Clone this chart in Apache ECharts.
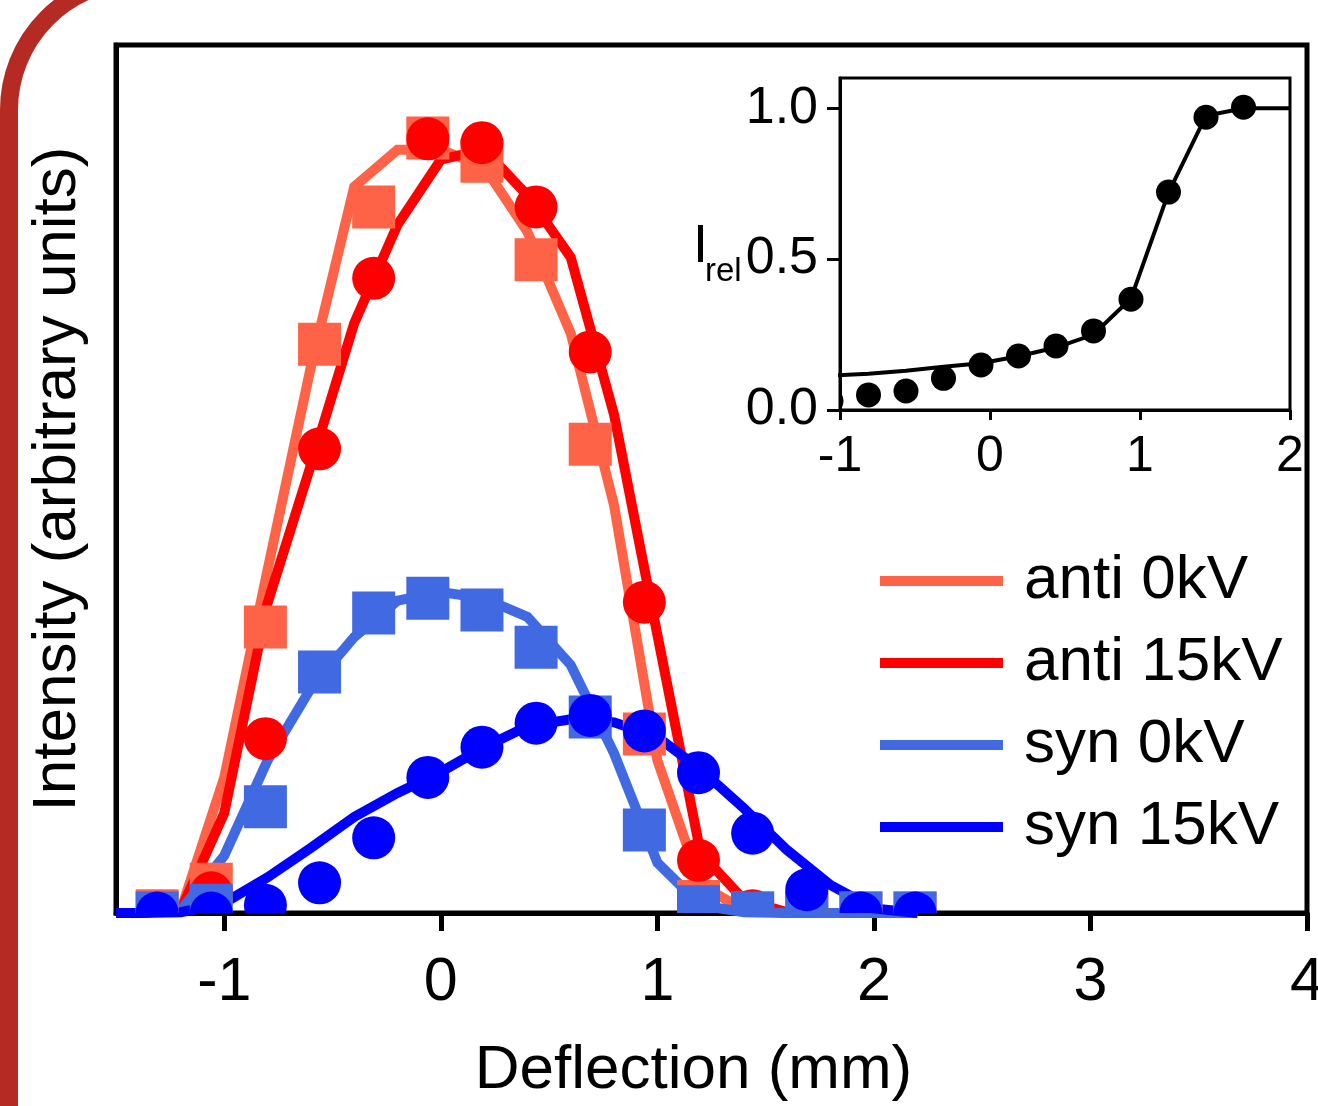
<!DOCTYPE html>
<html lang="en">
<head>
<meta charset="UTF-8">
<title>Deflection</title>
<style>
  html, body { margin: 0; background: #fff; }
  #chart { width: 1318px; height: 1106px; }
</style>
</head>
<body>
<div id="chart"></div>
<script src="https://cdn.jsdelivr.net/npm/echarts@6/dist/echarts.min.js"></script>
<script>
// measured points (x in mm)
const dataX = [-1.31, -1.06, -0.81, -0.56, -0.31, -0.06, 0.19, 0.44, 0.69, 0.94, 1.19, 1.44, 1.69, 1.94, 2.19];
const anti0Pts = [0.003, 0.037, 0.369, 0.734, 0.911, 1.0, 0.97, 0.843, 0.605, 0.231, 0.015, 0.0, 0.0, 0.0, 0.0];
const anti15Pts = [0.0, 0.026, 0.225, 0.599, 0.819, 0.999, 0.994, 0.911, 0.724, 0.401, 0.068, 0.003, 0.0, 0.0, 0.0];
const syn0Pts = [0.0, 0.01, 0.137, 0.311, 0.387, 0.406, 0.391, 0.343, 0.253, 0.107, 0.008, 0.0, 0.0, 0.0, 0.0];
const syn15Pts = [0.0, 0.0, 0.01, 0.039, 0.097, 0.175, 0.214, 0.245, 0.255, 0.235, 0.181, 0.103, 0.03, 0.0, 0.0];

// fitted curves
const fitX = [-1.5, -1.4, -1.2, -1.0, -0.8, -0.6, -0.4, -0.2, 0, 0.2, 0.4, 0.6, 0.8, 1.0, 1.2, 1.4, 1.6, 1.8, 2.0, 2.2];
const anti0Fit = [0, 0, 0.004, 0.175, 0.443, 0.705, 0.937, 0.985, 0.985, 0.963, 0.879, 0.748, 0.526, 0.197, 0.036, 0.004, 0, 0, 0, 0];
const anti15Fit = [0, 0, 0.004, 0.129, 0.4, 0.578, 0.761, 0.888, 0.972, 0.985, 0.926, 0.846, 0.643, 0.359, 0.077, 0.017, 0.001, 0, 0, 0];
const syn0Fit = [0, 0, 0.004, 0.074, 0.197, 0.29, 0.356, 0.403, 0.414, 0.406, 0.382, 0.32, 0.206, 0.065, 0.01, 0.001, 0, 0, 0, 0];
const syn15Fit = [0, 0, 0.001, 0.013, 0.046, 0.084, 0.124, 0.155, 0.182, 0.214, 0.241, 0.25, 0.246, 0.227, 0.185, 0.135, 0.081, 0.036, 0.006, 0];

// inset: relative intensity
const insetX = [-1.06, -0.81, -0.56, -0.31, -0.06, 0.19, 0.44, 0.69, 0.94, 1.19, 1.44, 1.69];
const irelPts = [0.03, 0.05, 0.063, 0.105, 0.149, 0.179, 0.212, 0.262, 0.367, 0.722, 0.970, 1.003];
const insetFitX = [-1.06, -0.81, -0.56, -0.31, -0.06, 0.19, 0.44, 0.69, 0.94, 1.19, 1.44, 1.69, 2.0];
const irelFit = [0.114, 0.12, 0.13, 0.143, 0.155, 0.178, 0.207, 0.25, 0.37, 0.72, 0.975, 1.0, 1.0];

const mainTicks = [-1, 0, 1, 2, 3, 4];
const insetXTicks = [-1, 0, 1, 2];
const insetYTicks = [0, 0.5, 1.0];

const font = 'Liberation Sans';
const zip = (xs, ys) => xs.map((x, i) => [x, ys[i]]);

function fitLine(name, xs, ys, color, width, gi) {
  return {
    type: 'line', name: name, xAxisIndex: gi, yAxisIndex: gi,
    data: zip(xs, ys), showSymbol: false, symbol: 'none', z: 2,
    lineStyle: { color: color, width: width, join: 'miter' },
    itemStyle: { color: color }
  };
}

// markers drawn as custom series so they get clipped at the frame
function markers(name, xs, ys, shape, color, size, gi) {
  return {
    type: 'custom', name: name, xAxisIndex: gi, yAxisIndex: gi, clip: true, z: 3,
    data: zip(xs, ys),
    renderItem: (params, api) => {
      const p = api.coord([api.value(0), api.value(1)]);
      if (shape === 'square') {
        return { type: 'rect', shape: { x: p[0] - size / 2, y: p[1] - size / 2, width: size, height: size }, style: { fill: color } };
      }
      return { type: 'circle', shape: { cx: p[0], cy: p[1], r: size / 2 }, style: { fill: color } };
    }
  };
}

const chart = echarts.init(document.getElementById('chart'));
chart.setOption({
  animation: false,
  backgroundColor: '#fff',
  grid: [
    { left: 116, top: 45, width: 1191, height: 868, show: true, borderColor: '#000', borderWidth: 5, backgroundColor: 'transparent', outerBoundsMode: 'none' },
    { left: 840, top: 78, width: 450, height: 332, show: true, borderColor: '#000', borderWidth: 3, backgroundColor: '#fff', outerBoundsMode: 'none', z: 5 }
  ],
  xAxis: [{
    type: 'value', gridIndex: 0, min: -1.5, max: 4,
    name: 'Deflection (mm)', nameLocation: 'middle', nameGap: 127, nameMoveOverlap: false,
    nameTextStyle: { fontSize: 62, fontFamily: font, color: '#000', padding: [0, 36, 0, 0] },
    axisLine: { show: true, onZero: false, lineStyle: { color: '#000', width: 5 } },
    axisTick: { show: true, inside: false, length: 18, lineStyle: { color: '#000', width: 5 }, customValues: mainTicks },
    axisLabel: { fontSize: 61, fontFamily: font, color: '#000', margin: 40, customValues: mainTicks },
    splitLine: { show: false }
  }, {
    type: 'value', gridIndex: 1, min: -1, max: 2,
    axisLine: { show: true, onZero: false, lineStyle: { color: '#000', width: 3 } },
    axisTick: { show: true, inside: false, length: 10, lineStyle: { color: '#000', width: 3 }, customValues: insetXTicks },
    axisLabel: { fontSize: 50, fontFamily: font, color: '#000', margin: 22, customValues: insetXTicks },
    splitLine: { show: false }, z: 6
  }],
  yAxis: [{
    type: 'value', gridIndex: 0, min: 0, max: 1.12,
    name: 'Intensity (arbitrary units)', nameLocation: 'middle', nameGap: 27, nameMoveOverlap: false,
    nameTextStyle: { fontSize: 62, fontFamily: font, color: '#000' },
    axisLine: { show: true, onZero: false, lineStyle: { color: '#000', width: 5 } },
    axisTick: { show: false }, axisLabel: { show: false }, splitLine: { show: false }
  }, {
    type: 'value', gridIndex: 1, min: 0, max: 1.1,
    axisLine: { show: true, onZero: false, lineStyle: { color: '#000', width: 3 } },
    axisTick: { show: true, inside: false, length: 13, lineStyle: { color: '#000', width: 3 }, customValues: insetYTicks },
    axisLabel: { fontSize: 52, fontFamily: font, color: '#000', margin: 22, customValues: insetYTicks, formatter: v => v.toFixed(1) },
    splitLine: { show: false }, z: 6
  }],
  legend: {
    data: ['anti 0kV', 'anti 15kV', 'syn 0kV', 'syn 15kV'],
    orient: 'vertical', left: 880, top: 550, padding: 0,
    icon: 'rect', itemWidth: 123, itemHeight: 10, itemGap: 20,
    textStyle: { fontSize: 62, lineHeight: 60, fontFamily: font, color: '#000', padding: [0, 0, 0, 16] }
  },
  graphic: [
    { type: 'rect', silent: true, z: 100, shape: { x: 9, y: -20, width: 2400, height: 2400, r: 130 }, style: { fill: 'none', stroke: '#b52b23', lineWidth: 18 } },
    { type: 'text', z: 100, x: 693, y: 247, style: { text: 'I', fontSize: 54, fontFamily: font, fill: '#000', verticalAlign: 'middle' } },
    { type: 'text', z: 100, x: 705, y: 272, style: { text: 'rel', fontSize: 33, fontFamily: font, fill: '#000', verticalAlign: 'middle' } }
  ],
  series: [
    fitLine('anti 0kV', fitX, anti0Fit, '#ff6347', 10, 0),
    fitLine('anti 15kV', fitX, anti15Fit, '#ff0000', 10, 0),
    fitLine('syn 0kV', fitX, syn0Fit, '#4169e1', 10, 0),
    fitLine('syn 15kV', fitX, syn15Fit, '#0000ff', 10, 0),
    markers('anti 0kV data', dataX, anti0Pts, 'square', '#ff6347', 43, 0),
    markers('anti 15kV data', dataX, anti15Pts, 'circle', '#ff0000', 43, 0),
    markers('syn 0kV data', dataX, syn0Pts, 'square', '#4169e1', 43, 0),
    markers('syn 15kV data', dataX, syn15Pts, 'circle', '#0000ff', 43, 0),
    Object.assign(fitLine('Irel fit', insetFitX, irelFit, '#000', 4, 1), { z: 7 }),
    Object.assign(markers('Irel', insetX, irelPts, 'circle', '#000', 25, 1), { z: 8 })
  ]
});
window.addEventListener('resize', () => chart.resize());
</script>
</body>
</html>
